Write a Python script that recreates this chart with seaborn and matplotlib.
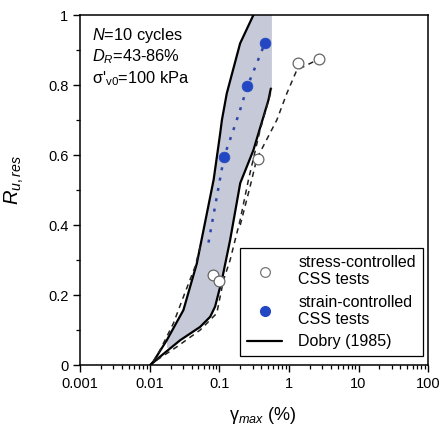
import numpy as np
import pandas as pd
import matplotlib
matplotlib.use("Agg")
import matplotlib.pyplot as plt
import seaborn as sns
from matplotlib.lines import Line2D
from matplotlib.patches import Polygon, Rectangle
from matplotlib.ticker import FixedLocator, FixedFormatter, MultipleLocator, LogLocator, NullFormatter

# ---- data ----
# Dobry (1985) bounds
dobry_left_x = [0.0102, 0.0113, 0.0176, 0.0305, 0.0475, 0.083, 0.103, 0.109, 0.128, 0.199, 0.309]
dobry_left_y = [0.0, 0.01, 0.071, 0.157, 0.29, 0.53, 0.662, 0.70, 0.776, 0.919, 1.0]
dobry_right_x = [0.0102, 0.0141, 0.0274, 0.053, 0.074, 0.087, 0.109, 0.143, 0.20, 0.309, 0.508, 0.55]
dobry_right_y = [0.0, 0.024, 0.071, 0.109, 0.138, 0.167, 0.243, 0.357, 0.52, 0.614, 0.757, 0.79]
shade_top_x = [0.57, 0.57]
shade_top_y = [1.0, 0.79]

# dashed fit curves
dash_left_x = [0.0113, 0.0141, 0.0219, 0.0305, 0.0449, 0.055]
dash_left_y = [0.01, 0.043, 0.119, 0.195, 0.281, 0.35]
dash_right_x = [0.0126, 0.0245, 0.053, 0.092, 0.115, 0.143, 0.199, 0.262, 0.385, 0.57]
dash_right_y = [0.014, 0.052, 0.10, 0.148, 0.243, 0.30, 0.414, 0.529, 0.671, 0.79]
dash_outer_x = [0.20, 0.277, 0.346, 0.67, 0.933, 1.3, 2.75]
dash_outer_y = [0.40, 0.51, 0.59, 0.70, 0.776, 0.843, 0.875]

# blue dotted trend through strain-controlled tests
dot_x = [0.07, 0.117, 0.159, 0.199, 0.254, 0.455]
dot_y = [0.35, 0.595, 0.671, 0.729, 0.797, 0.921]

# test data
stress_x = [0.082, 0.10, 0.365, 1.34, 2.75]
stress_y = [0.257, 0.24, 0.588, 0.862, 0.874]
strain_x = [0.117, 0.254, 0.455]
strain_y = [0.595, 0.797, 0.921]

x_ticks = [0.001, 0.01, 0.1, 1, 10, 100]
x_tick_labels = ["0.001", "0.01", "0.1", "1", "10", "100"]
y_ticks = [0, 0.2, 0.4, 0.6, 0.8, 1.0]
y_tick_labels = ["0", "0.2", "0.4", "0.6", "0.8", "1"]

# ---- style ----
sns.set_style("ticks")
plt.rcParams["font.family"] = ["Liberation Sans", "DejaVu Sans"]
plt.rcParams["mathtext.fontset"] = "custom"
plt.rcParams["mathtext.rm"] = "Liberation Sans"
plt.rcParams["mathtext.it"] = "Liberation Sans:italic"
plt.rcParams["mathtext.bf"] = "Liberation Sans:bold"
plt.rcParams["text.color"] = "black"
plt.rcParams["axes.labelcolor"] = "black"
plt.rcParams["legend.labelcolor"] = "black"

fig = plt.figure(figsize=(4.4, 4.3), dpi=100)
ax = fig.add_axes([0.182, 0.151, 0.791, 0.814])
ax.set_xscale("log")

# shaded band between Dobry bounds
poly_x = dobry_left_x + shade_top_x + dobry_right_x[::-1]
poly_y = dobry_left_y + shade_top_y + dobry_right_y[::-1]
band = Polygon(np.column_stack([poly_x, poly_y]), closed=True,
               facecolor="#c6c9d8", edgecolor="none", zorder=1)
ax.add_patch(band)
clip = Rectangle((0.0178, 0.05), 0.57 - 0.0178, 0.95, transform=ax.transData)
band.set_clip_path(clip)

line_kw = dict(ax=ax, sort=False, estimator=None, legend=False)
sns.lineplot(x=dobry_left_x, y=dobry_left_y, color="black", linewidth=1.6, zorder=3, **line_kw)
sns.lineplot(x=dobry_right_x, y=dobry_right_y, color="black", linewidth=1.6, zorder=3, **line_kw)
for xs, ys in [(dash_left_x, dash_left_y), (dash_right_x, dash_right_y), (dash_outer_x, dash_outer_y)]:
    sns.lineplot(x=xs, y=ys, color="#222222", linewidth=1.1, linestyle=(0, (3.5, 3)), zorder=3, **line_kw)
sns.lineplot(x=dot_x, y=dot_y, color="#2d46a8", linewidth=1.8, linestyle=(0, (1.2, 3)), zorder=3, **line_kw)

sns.scatterplot(x=stress_x, y=stress_y, ax=ax, s=60, facecolor="white",
                edgecolor="#666666", linewidth=0.9, zorder=5, legend=False)
sns.scatterplot(x=strain_x, y=strain_y, ax=ax, s=60, color="#2347c2",
                edgecolor="#2347c2", linewidth=0.5, zorder=5, legend=False)

ax.set_xlim(0.001, 100)
ax.set_ylim(0, 1)
ax.xaxis.set_major_locator(FixedLocator(x_ticks))
ax.xaxis.set_major_formatter(FixedFormatter(x_tick_labels))
ax.xaxis.set_minor_locator(LogLocator(base=10, subs=np.arange(2, 10), numticks=20))
ax.xaxis.set_minor_formatter(NullFormatter())
ax.yaxis.set_major_locator(FixedLocator(y_ticks))
ax.yaxis.set_major_formatter(FixedFormatter(y_tick_labels))
ax.yaxis.set_minor_locator(MultipleLocator(0.1))

ax.tick_params(which="major", direction="out", length=5, width=1, labelsize=10.5, colors="black")
ax.tick_params(which="minor", direction="out", length=3, width=0.9, colors="black")
for sp in ax.spines.values():
    sp.set_linewidth(1.1)
    sp.set_color("black")

ax.set_xlabel(r"γ$_{max}$ (%)", fontsize=13)
ax.xaxis.set_label_coords(0.525, -0.115)
ax.set_ylabel(r"$R_{u,res}$", fontsize=14.5)
ax.yaxis.set_label_coords(-0.155, 0.53)

ax.text(0.034, 0.943, r"$N$=10 cycles", transform=ax.transAxes, fontsize=11.8, va="center")
ax.text(0.034, 0.88, r"$D_R$=43-86%", transform=ax.transAxes, fontsize=11.8, va="center")
ax.text(0.034, 0.818, r"σ'$_{\mathrm{v0}}$=100 kPa", transform=ax.transAxes, fontsize=11.8, va="center")

handles = [
    Line2D([], [], linestyle="none", marker="o", markersize=7, markerfacecolor="white",
           markeredgecolor="#777777", markeredgewidth=0.9),
    Line2D([], [], linestyle="none", marker="o", markersize=7, markerfacecolor="#2347c2",
           markeredgecolor="#2347c2"),
    Line2D([], [], color="black", linewidth=1.6),
]
labels = ["stress-controlled\nCSS tests", "strain-controlled\nCSS tests", "Dobry (1985)"]
leg = ax.legend(handles, labels, loc="lower right", bbox_to_anchor=(0.985, 0.025),
                frameon=True, fancybox=False, fontsize=11.5, handlelength=2.2,
                handletextpad=1.0, borderpad=0.45, labelspacing=0.45, borderaxespad=0)
leg.get_frame().set_edgecolor("black")
leg.get_frame().set_linewidth(0.9)
leg.get_frame().set_alpha(1)

fig.savefig("out.png", dpi=100)
